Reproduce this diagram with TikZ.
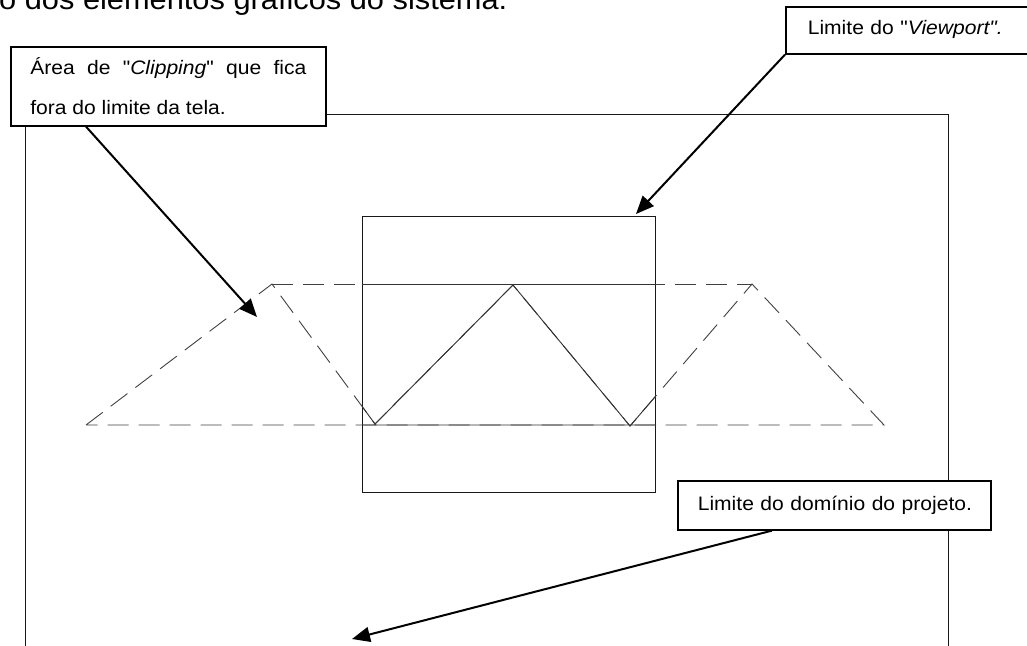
\documentclass[tikz,border=0pt]{standalone}
\usepackage{fontspec}
\setmainfont{Liberation Sans}[FakeStretch=1.08,Ligatures=TeXOff]
\usetikzlibrary{arrows.meta}
\begin{document}
\begin{tikzpicture}[x=1pt,y=-1pt,
  frame/.style={draw=black!90,line width=1pt},
  callout/.style={draw=black,line width=1.6pt,fill=white,inner sep=0pt,
    font=\fontsize{19.5}{24}\selectfont},
  pointer/.style={draw=black,line width=2pt,
    -{Triangle[length=18pt,width=15pt]}},
  clipline/.style={draw=black!75,line width=0.9pt,dash pattern=on 21pt off 10pt},
  viewline/.style={draw=black!80,line width=0.9pt}]
\clip (0,0) rectangle (1027,645);

% heading line, cut by the page top
\node[anchor=base west,inner sep=0pt,font=\fontsize{28.5}{32}\selectfont]
  (head) at (-1,9.5) {o dos elementos gráficos do sistema.};

% project domain border (open at the bottom)
\draw[frame] (25,660) -- (25,114) -- (948,114) -- (948,660);

% viewport rectangle
\node[frame,anchor=north west,minimum width=293pt,minimum height=276pt,inner sep=0pt]
  (vp) at (362,216) {};

% polyline points
\coordinate (a) at (86,425);
\coordinate (b) at (272,284);
\coordinate (c) at (375,424);
\coordinate (d) at (513,285);
\coordinate (e) at (630,426);
\coordinate (f) at (752,284);
\coordinate (g) at (884,425);

% full figure, dashed
\draw[clipline] (a) -- (b) -- (c) -- (d) -- (e) -- (f) -- (g) -- cycle;
\draw[clipline] (b) -- (f);

% part inside the viewport, solid
\begin{scope}
  \clip (vp.north west) rectangle (vp.south east);
  \draw[viewline] (a) -- (b) -- (c) -- (d) -- (e) -- (f) -- (g) -- cycle;
  \draw[viewline] (b) -- (f);
\end{scope}

% callouts
\node[callout,anchor=north west,minimum width=315pt,minimum height=79pt]
  (clipbox) at (10,46)
  {\parbox{276pt}{\fontsize{19.5}{40}\selectfont
    \makebox[276pt][s]{Área de "\textit{Clipping}" que fica}\\
    fora do limite da tela.}};

\node[callout,anchor=north west,minimum width=262pt,minimum height=47pt,
  text width=262pt,align=left,inner xsep=0pt,text height=16pt,text depth=7pt]
  (vpbox) at (785,6)
  {\hspace*{22pt}\mbox{Limite do "\textit{Viewport".}}};

\node[callout,anchor=north west,minimum width=313pt,minimum height=49pt,
  text width=313pt,inner xsep=0pt,align=left,text height=16pt,text depth=5pt]
  (projbox) at (677,480)
  {\hspace*{20pt}\mbox{Limite do domínio do projeto.}};

% arrow targets
\coordinate (cliptip) at (257,317);
\coordinate (vptip) at ([xshift=-20pt,yshift=2pt]vp.north east);
\coordinate (projtip) at (352,639);

\draw[pointer] ([xshift=76pt]clipbox.south west) -- (cliptip);
\draw[pointer] (vpbox.south west) -- (vptip);
\draw[pointer] ([xshift=95pt]projbox.south west) -- (projtip);
\end{tikzpicture}
\end{document}
